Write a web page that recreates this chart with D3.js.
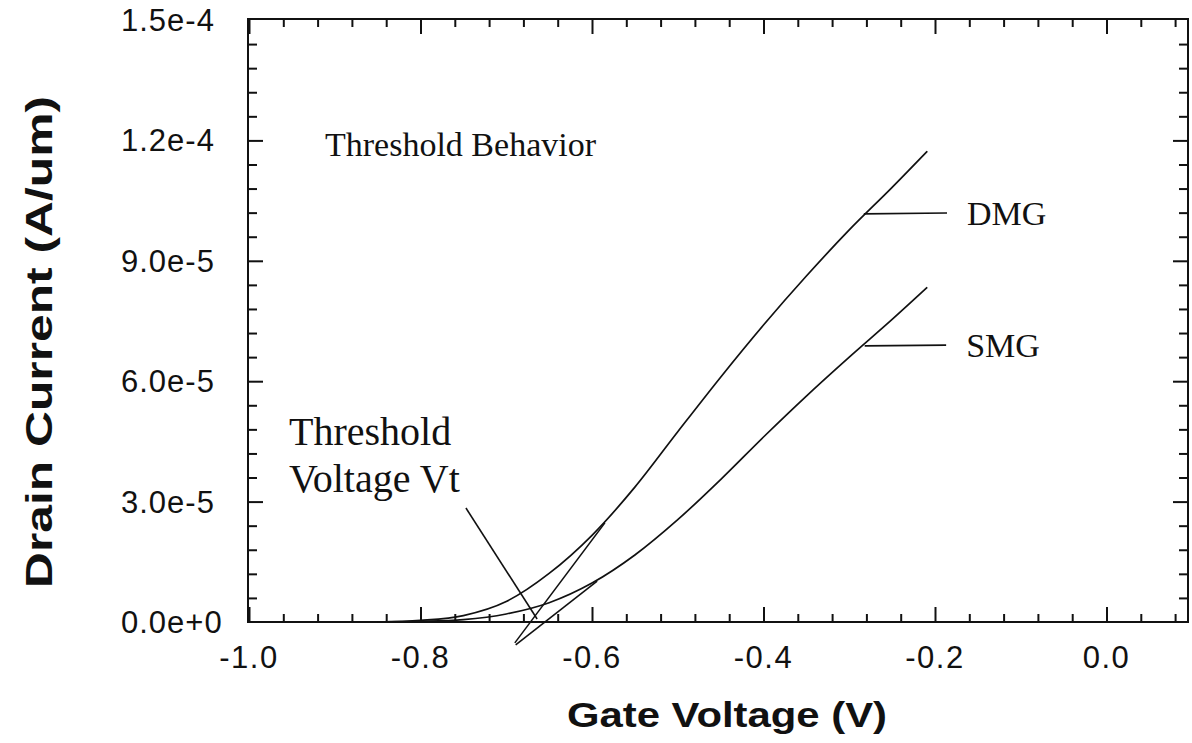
<!DOCTYPE html>
<html><head><meta charset="utf-8">
<script src="https://cdn.jsdelivr.net/npm/d3@7/dist/d3.min.js"></script>
<style>
html,body{margin:0;padding:0;background:#fff;}
svg{display:block;}
</style></head>
<body><svg id="chart" width="1192" height="743"></svg>
<script>
// ---- data ----
const gateVoltage = [-0.85, -0.80, -0.75, -0.70, -0.65, -0.60, -0.55, -0.50, -0.45, -0.40, -0.35, -0.30, -0.25, -0.209];
const dmgCurrent  = [0, 0.4e-6, 1.6e-6, 5.1e-6, 12.1e-6, 21.6e-6, 33.6e-6, 47.4e-6, 61.0e-6, 74.0e-6, 86.2e-6, 97.7e-6, 108.3e-6, 117.3e-6];
const smgCurrent  = [0, 0.15e-6, 0.6e-6, 2.0e-6, 4.8e-6, 9.7e-6, 16.7e-6, 25.5e-6, 35.5e-6, 46.1e-6, 56.3e-6, 66.0e-6, 75.4e-6, 83.4e-6];
const seriesNames = ["DMG", "SMG"];

const dmgTangent = [[-0.690, -5.2e-6], [-0.585, 24.7e-6]];
const smgTangent = [[-0.689, -5.7e-6], [-0.594, 10.2e-6]];
const vtPointer  = [[-0.747, 28.4e-6], [-0.664, 0.75e-6]];
const dmgLeader  = [[-0.283, 101.7e-6], [-0.186, 101.9e-6]];
const smgLeader  = [[-0.282, 68.8e-6], [-0.187, 69.0e-6]];

const xMajorTicks = [-1.0, -0.8, -0.6, -0.4, -0.2, 0.0];
const xTickLabels = ["-1.0", "-0.8", "-0.6", "-0.4", "-0.2", "0.0"];
const xMinorTicks = [-0.96,-0.92,-0.88,-0.84,-0.76,-0.72,-0.68,-0.64,-0.56,-0.52,-0.48,-0.44,-0.36,-0.32,-0.28,-0.24,-0.16,-0.12,-0.08,-0.04,0.04,0.08];
const yMajorTicks = [0, 3e-5, 6e-5, 9e-5, 1.2e-4, 1.5e-4];
const yTickLabels = ["0.0e+0", "3.0e-5", "6.0e-5", "9.0e-5", "1.2e-4", "1.5e-4"];
const yMinorTicks = [6e-6,12e-6,18e-6,24e-6,36e-6,42e-6,48e-6,54e-6,66e-6,72e-6,78e-6,84e-6,96e-6,102e-6,108e-6,114e-6,126e-6,132e-6,138e-6,144e-6];

const xTitle = "Gate Voltage (V)";
const yTitle = "Drain Current (A/um)";
const plotTitle = "Threshold Behavior";
const vtLabel = ["Threshold", "Voltage Vt"];

// ---- layout ----
const L = 248, R = 1188, T = 19, B = 622;
const svg = d3.select("#chart");
const x = d3.scaleLinear().domain([-1.0, 0.0]).range([249, 1106.5]);
const y = d3.scaleLinear().domain([0, 1.5e-4]).range([B, 20]);

const ink = "#111";
const sans = "'Liberation Sans', Arial, Helvetica, sans-serif";
const serif = "'Liberation Serif', 'Times New Roman', Times, serif";

// frame
svg.append("rect").attr("x", L).attr("y", T).attr("width", R - L).attr("height", B - T)
  .attr("fill", "none").attr("stroke", ink).attr("stroke-width", 2);

// ticks via d3 axes (inner ticks)
function styleAxis(g){ g.select(".domain").remove(); g.selectAll("line").attr("stroke", ink).attr("stroke-width", 2); g.selectAll("text").remove(); }
svg.append("g").attr("transform", `translate(0,${B})`).call(d3.axisTop(x).tickValues(xMajorTicks).tickSize(15)).call(styleAxis);
svg.append("g").attr("transform", `translate(0,${B})`).call(d3.axisTop(x).tickValues(xMinorTicks).tickSize(8)).call(styleAxis);
svg.append("g").attr("transform", `translate(0,${T})`).call(d3.axisBottom(x).tickValues(xMajorTicks).tickSize(15)).call(styleAxis);
svg.append("g").attr("transform", `translate(0,${T})`).call(d3.axisBottom(x).tickValues(xMinorTicks).tickSize(8)).call(styleAxis);
svg.append("g").attr("transform", `translate(${L},0)`).call(d3.axisRight(y).tickValues(yMajorTicks.slice(1,5)).tickSize(15)).call(styleAxis);
svg.append("g").attr("transform", `translate(${L},0)`).call(d3.axisRight(y).tickValues(yMinorTicks).tickSize(9)).call(styleAxis);
svg.append("g").attr("transform", `translate(${R},0)`).call(d3.axisLeft(y).tickValues(yMajorTicks.slice(1,5)).tickSize(15)).call(styleAxis);
svg.append("g").attr("transform", `translate(${R},0)`).call(d3.axisLeft(y).tickValues(yMinorTicks).tickSize(9)).call(styleAxis);

// tick labels
svg.append("g").selectAll("text").data(xMajorTicks).join("text")
  .attr("x", d => x(d)).attr("y", 668).attr("text-anchor", "middle")
  .attr("font-family", sans).attr("font-size", 31).attr("letter-spacing", 1.5).attr("fill", ink)
  .text((d, i) => xTickLabels[i]);
svg.append("g").selectAll("text").data(yMajorTicks).join("text")
  .attr("x", 121).attr("y", d => y(d) + 11).attr("text-anchor", "start")
  .attr("font-family", sans).attr("font-size", 31).attr("letter-spacing", 1).attr("fill", ink)
  .text((d, i) => yTickLabels[i]);

// axis titles
svg.append("text").attr("x", 727).attr("y", 727).attr("text-anchor", "middle")
  .attr("font-family", sans).attr("font-weight", "bold").attr("font-size", 35)
  .attr("textLength", 320).attr("lengthAdjust", "spacingAndGlyphs").attr("fill", ink).text(xTitle);
svg.append("text").attr("transform", "translate(52,342) rotate(-90)").attr("text-anchor", "middle")
  .attr("font-family", sans).attr("font-weight", "bold").attr("font-size", 36)
  .attr("textLength", 492).attr("lengthAdjust", "spacingAndGlyphs").attr("fill", ink).text(yTitle);

// curves
const line = d3.line().x(d => x(d[0])).y(d => y(d[1])).curve(d3.curveMonotoneX);
const series = [dmgCurrent, smgCurrent].map(vals => gateVoltage.map((v, i) => [v, vals[i]]));
svg.append("g").selectAll("path").data(series).join("path")
  .attr("d", line).attr("fill", "none").attr("stroke", ink).attr("stroke-width", 1.7);

// straight annotation lines
const seg = d3.line().x(d => x(d[0])).y(d => y(d[1]));
svg.append("g").selectAll("path").data([dmgTangent, smgTangent, vtPointer, dmgLeader, smgLeader]).join("path")
  .attr("d", seg).attr("fill", "none").attr("stroke", ink).attr("stroke-width", 1.6);

// series labels
const labelPos = [dmgLeader, smgLeader];
svg.append("g").selectAll("text").data(seriesNames).join("text")
  .attr("x", (d, i) => x(labelPos[i][1][0]) + 20).attr("y", (d, i) => y(labelPos[i][1][1]) + 12)
  .attr("font-family", serif).attr("font-size", 34).attr("fill", ink).text(d => d);

// texts
svg.append("text").attr("x", 325).attr("y", 156).attr("font-family", serif).attr("font-size", 34)
  .attr("fill", ink).text(plotTitle);
svg.append("g").selectAll("text").data(vtLabel).join("text")
  .attr("x", 289).attr("y", (d, i) => 445 + i * 47).attr("font-family", serif).attr("font-size", 40)
  .attr("fill", ink).text(d => d);
</script></body></html>
